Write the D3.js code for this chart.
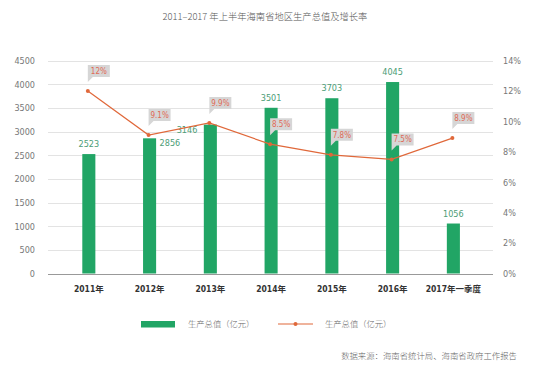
<!DOCTYPE html>
<html><head><meta charset="utf-8">
<script src="https://cdn.jsdelivr.net/npm/d3@7/dist/d3.min.js"></script>
<style>
body{margin:0;background:#fff;}
svg{display:block;}
.num{font-family:"DejaVu Sans","Liberation Sans",sans-serif;font-stretch:condensed;}
.cjk{font-family:"Noto Sans CJK SC","Noto Sans",sans-serif;}
</style></head>
<body><svg id="c" width="550" height="366"></svg>
<script>
const categories = ["2011年","2012年","2013年","2014年","2015年","2016年","2017年一季度"];
const gdp = [2523, 2856, 3146, 3501, 3703, 4045, 1056];
const growth = [12, 9.1, 9.9, 8.5, 7.8, 7.5, 8.9];
const growthLabels = ["12%","9.1%","9.9%","8.5%","7.8%","7.5%","8.9%"];
const leftTicks = [0,500,1000,1500,2000,2500,3000,3500,4000,4500];
const rightTicks = [0,2,4,6,8,10,12,14];
const title = "2011–2017 年上半年海南省地区生产总值及增长率";
const legendBar = "生产总值（亿元）";
const legendLine = "生产总值（亿元）";
const source = "数据来源：海南省统计局、海南省政府工作报告";

const svg = d3.select("#c");
const x0 = 48, x1 = 493, yTop = 60.5, yBot = 273.5;
const green = "#21a565", orange = "#e0683a";

const x = d3.scaleBand().domain(categories).range([58.6, 483.6]).paddingInner(0.785).paddingOuter(0.39);
const yL = d3.scaleLinear().domain([0,4500]).range([yBot, yTop]);
const yR = d3.scaleLinear().domain([0,14]).range([yBot, yTop]);

// title
svg.append("text").attr("class","cjk").attr("x",265).attr("y",20).attr("text-anchor","middle")
  .attr("font-size",9.3).attr("font-weight",300).attr("fill","#555").text(title);

// grid
svg.append("g").selectAll("line").data(leftTicks).join("line")
  .attr("x1",x0).attr("x2",x1).attr("y1",d=>Math.round(yL(d))+0.5).attr("y2",d=>Math.round(yL(d))+0.5)
  .attr("stroke",d=>d===0?"#999":"#dcdcdc").attr("stroke-width",d=>d===0?1:0.8);

// left axis
const gl = svg.append("g").attr("transform",`translate(${x0},0)`)
  .call(d3.axisLeft(yL).tickValues(leftTicks).tickFormat(d3.format("d")).tickSize(0).tickPadding(13));
gl.select(".domain").remove();
gl.selectAll("text").attr("class","num").attr("font-size",9).attr("fill","#777");

// right axis
const gr = svg.append("g").attr("transform",`translate(${x1},0)`)
  .call(d3.axisRight(yR).tickValues(rightTicks).tickFormat(d=>d+"%").tickSize(0).tickPadding(10));
gr.select(".domain").remove();
gr.selectAll("text").attr("class","num").attr("font-size",9).attr("fill","#777");

// bottom axis labels
const gb = svg.append("g").attr("transform",`translate(0,${yBot})`)
  .call(d3.axisBottom(x).tickSize(0).tickPadding(12));
gb.select(".domain").remove();
gb.selectAll("text").attr("font-size",8.5).attr("font-weight","bold").attr("fill","#333")
  .style("font-family","'DejaVu Sans','Noto Sans CJK SC',sans-serif").style("font-stretch","condensed");

// bars
svg.append("g").selectAll("rect").data(gdp).join("rect")
  .attr("x",(d,i)=>x(categories[i])).attr("width",x.bandwidth())
  .attr("y",d=>yL(d)).attr("height",d=>yBot-yL(d)).attr("fill",green);

// bar value labels
const place = {"2012年":"right","2013年":"left"};
svg.append("g").selectAll("text").data(gdp).join("text").attr("class","num")
  .attr("font-size",9).attr("fill","#4c9d76")
  .attr("x",(d,i)=>{const c=x(categories[i])+x.bandwidth()/2; const p=place[categories[i]];
     return p==="right"? c+10 : p==="left"? c-13 : c;})
  .attr("y",(d,i)=>{const p=place[categories[i]]; return p? yL(d)+8 : yL(d)-7;})
  .attr("text-anchor",(d,i)=>{const p=place[categories[i]]; return p==="right"?"start":p==="left"?"end":"middle";})
  .text(d=>d);

// line
const cx = (i)=>x(categories[i])+x.bandwidth()/2-1;
const line = d3.line().x((d,i)=>cx(i)).y(d=>yR(d));
svg.append("path").datum(growth).attr("d",line).attr("fill","none").attr("stroke",orange).attr("stroke-width",1.2);
svg.append("g").selectAll("circle").data(growth).join("circle")
  .attr("cx",(d,i)=>cx(i)).attr("cy",d=>yR(d)).attr("r",2).attr("fill",orange);

// callouts
const cg = svg.append("g").selectAll("g").data(growth).join("g")
  .attr("transform",(d,i)=>`translate(${cx(i)},${yR(d)-14})`);
cg.append("path").attr("d","M0,-12 L22,-12 L22,0 L5,0 L0,5 Z").attr("fill","#d6d6d6");
cg.append("text").attr("class","num").attr("x",11).attr("y",-3.2).attr("text-anchor","middle")
  .attr("font-size",8).attr("fill","#e06a55").text((d,i)=>growthLabels[i]);

// legend
svg.append("rect").attr("x",141).attr("y",321).attr("width",34).attr("height",6.5).attr("fill",green);
svg.append("text").attr("class","cjk").attr("x",188).attr("y",327).attr("font-size",8.3).attr("font-weight",300).attr("fill","#666").text(legendBar);
svg.append("line").attr("x1",278).attr("x2",313).attr("y1",324).attr("y2",324).attr("stroke",orange).attr("stroke-width",1.2);
svg.append("circle").attr("cx",295.5).attr("cy",324).attr("r",2).attr("fill",orange);
svg.append("text").attr("class","cjk").attr("x",325).attr("y",327).attr("font-size",8.3).attr("font-weight",300).attr("fill","#666").text(legendLine);

// source
svg.append("text").attr("class","cjk").attr("x",517).attr("y",359).attr("text-anchor","end")
  .attr("font-size",8.4).attr("font-weight",300).attr("fill","#666").text(source);
</script></body></html>
